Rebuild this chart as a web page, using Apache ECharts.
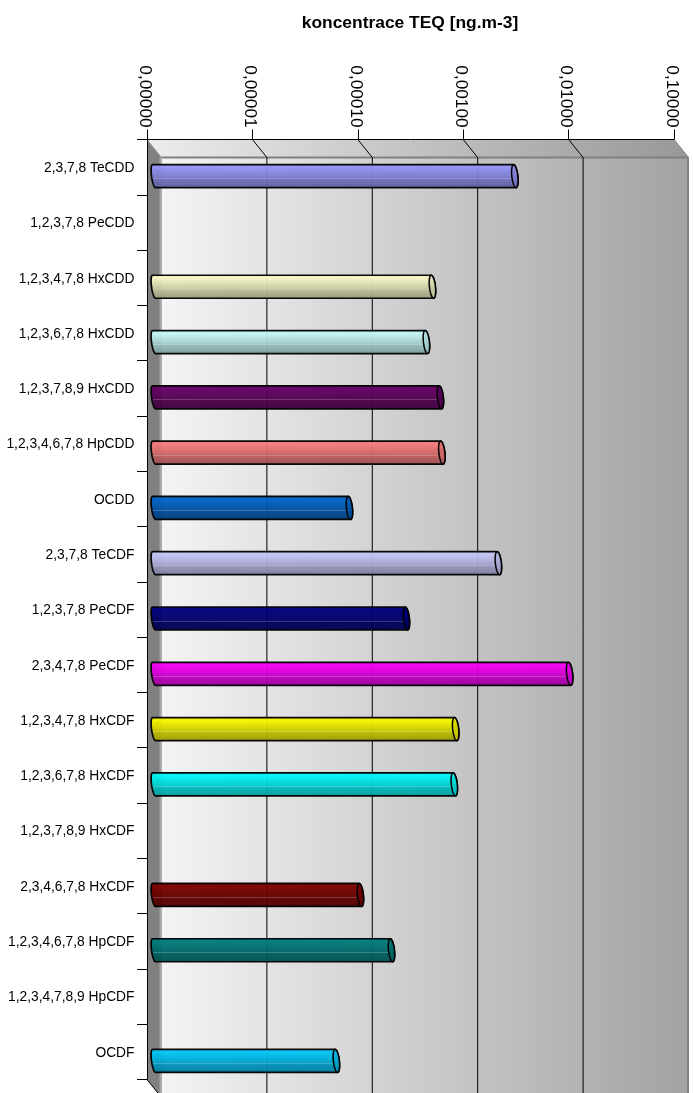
<!DOCTYPE html>
<html>
<head>
<meta charset="utf-8">
<style>
  html, body { margin: 0; padding: 0; background: #fff; overflow: hidden; }
  #chart { width: 693px; height: 1093px; }
</style>
<script src="https://cdn.jsdelivr.net/npm/echarts@6/dist/echarts.min.js"></script>
</head>
<body>
<div id="chart"></div>
<script>
// Congeners on the vertical axis, top to bottom
const categories = [
  '2,3,7,8 TeCDD', '1,2,3,7,8 PeCDD', '1,2,3,4,7,8 HxCDD', '1,2,3,6,7,8 HxCDD',
  '1,2,3,7,8,9 HxCDD', '1,2,3,4,6,7,8 HpCDD', 'OCDD', '2,3,7,8 TeCDF',
  '1,2,3,7,8 PeCDF', '2,3,4,7,8 PeCDF', '1,2,3,4,7,8 HxCDF', '1,2,3,6,7,8 HxCDF',
  '1,2,3,7,8,9 HxCDF', '2,3,4,6,7,8 HxCDF', '1,2,3,4,6,7,8 HpCDF', '1,2,3,4,7,8,9 HpCDF', 'OCDF'
];
// TEQ concentration in ng.m-3; null means no bar for that congener
const teqValues = [
  0.00265, null, 0.000438, 0.000384, 0.000521, 0.000538, 0.0000714, 0.00185,
  0.000248, 0.00877, 0.000728, 0.000706, null, 0.0000908, 0.000179, null, 0.0000537
];
const barColors = [
  '#9999ff', '#993366', '#ffffcc', '#ccffff', '#660066', '#ff8080', '#0066cc', '#ccccff',
  '#000080', '#ff00ff', '#ffff00', '#00ffff', '#800080', '#800000', '#008080', '#0000ff', '#00ccff'
];
// Decades of the logarithmic scale
const axisTicks = [0.000001, 0.00001, 0.0001, 0.001, 0.01, 0.1];
const chartTitle = 'koncentrace TEQ [ng.m-3]';

// Depth of the pseudo-3D box, and how far into it the cylinders sit
const DEPTH_X = 14.5, DEPTH_Y = 18;
const BAR_DX = 7, BAR_DY = 9, BAR_RY = 11.5;

const grad = (stops) => new echarts.graphic.LinearGradient(1, 0, 0, 0,
  stops.map((c, i) => ({ offset: i / (stops.length - 1), color: c })));

// Scales a colour's channels towards black
function shade(color, factor) {
  const p = echarts.color.parse(color);
  return 'rgb(' + [p[0], p[1], p[2]].map((c) => Math.round(c * factor)).join(',') + ')';
}

// Back wall, ceiling, floor panel and the decade lines running over them
function renderBox(params, api) {
  const c = params.coordSys;
  const L = c.x, T = c.y, R = c.x + c.width, B = c.y + c.height;
  const items = [
    { type: 'polygon', shape: { points: [[L + DEPTH_X, T + DEPTH_Y], [R + DEPTH_X, T + DEPTH_Y], [R + DEPTH_X, B + DEPTH_Y], [L + DEPTH_X, B + DEPTH_Y]] },
      style: { fill: grad(['#a2a2a2', '#f4f4f4']) } },
    { type: 'polygon', shape: { points: [[L, T], [R, T], [R + DEPTH_X, T + DEPTH_Y], [L + DEPTH_X, T + DEPTH_Y]] },
      style: { fill: grad(['#989898', '#ececec']) } },
    { type: 'polygon', shape: { points: [[L, T], [L + DEPTH_X, T + DEPTH_Y], [L + DEPTH_X, B + DEPTH_Y], [L, B]] },
      style: { fill: '#808080' } },
    { type: 'line', shape: { x1: L + DEPTH_X, y1: T + DEPTH_Y, x2: R + DEPTH_X, y2: T + DEPTH_Y }, style: { stroke: '#808080', lineWidth: 2 } },
    { type: 'line', shape: { x1: L + DEPTH_X - 1, y1: T + DEPTH_Y, x2: L + DEPTH_X - 1, y2: B + DEPTH_Y }, style: { stroke: '#a6a6a6', lineWidth: 2 } },
    { type: 'line', shape: { x1: R + DEPTH_X - 0.5, y1: T + DEPTH_Y, x2: R + DEPTH_X - 0.5, y2: B + DEPTH_Y }, style: { stroke: '#808080', lineWidth: 2 } },
    { type: 'line', shape: { x1: L, y1: T, x2: L + DEPTH_X, y2: T + DEPTH_Y }, style: { stroke: '#a0a0a0', lineWidth: 1 } },
    { type: 'line', shape: { x1: R, y1: T, x2: R + DEPTH_X, y2: T + DEPTH_Y }, style: { stroke: '#808080', lineWidth: 1 } },
    { type: 'line', shape: { x1: L, y1: B, x2: L + DEPTH_X, y2: B + DEPTH_Y }, style: { stroke: '#000', lineWidth: 1 } }
  ];
  axisTicks.slice(1, -1).forEach((t) => {
    const x = api.coord([t, 0])[0];
    items.push(
      { type: 'line', shape: { x1: x, y1: T, x2: x + DEPTH_X, y2: T + DEPTH_Y }, style: { stroke: '#000', lineWidth: 1 } },
      { type: 'line', shape: { x1: x + DEPTH_X, y1: T + DEPTH_Y, x2: x + DEPTH_X, y2: B + DEPTH_Y }, style: { stroke: '#000', lineWidth: 1 } }
    );
  });
  return { type: 'group', children: items };
}

// Half of a slightly sheared ellipse, from the top edge round to the bottom edge
function cap(cx, cy, rx, shear, side) {
  const pts = [];
  for (let i = 0; i <= 24; i++) {
    const t = -Math.PI / 2 + Math.PI * i / 24;
    pts.push([cx + side * rx * Math.cos(t) + shear * Math.sin(t), cy + BAR_RY * Math.sin(t)]);
  }
  return pts;
}

// One horizontal cylinder, from the axis minimum to its value
function renderBar(params, api) {
  const v = api.value(0);
  if (v == null || isNaN(v)) return null;
  const idx = api.value(1);
  const start = api.coord([axisTicks[0], idx]);
  const end = api.coord([v, idx]);
  const cy = end[1] + BAR_DY;
  const x0 = start[0] + BAR_DX;
  const x1 = end[0] + BAR_DX;
  const base = barColors[idx];
  const left = cap(x0, cy, 2.5, 1.5, -1);
  const right = cap(x1, cy, 3, 1.2, 1);
  const body = left.concat(right.slice().reverse());
  const fill = new echarts.graphic.LinearGradient(0, 0, 0, 1, [
    { offset: 0, color: shade(base, 0.9) },
    { offset: 0.14, color: shade(base, 0.97) },
    { offset: 0.55, color: shade(base, 0.8) },
    { offset: 0.62, color: shade(base, 0.74) },
    { offset: 1, color: shade(base, 0.6) }
  ]);
  const capFill = new echarts.graphic.LinearGradient(0, 0, 0, 1, [
    { offset: 0, color: shade(base, 0.92) },
    { offset: 1, color: shade(base, 0.7) }
  ]);
  const ellipse = cap(x1, cy, 3, 1.2, 1).concat(cap(x1, cy, 3, 1.2, -1).reverse());
  const highlightY = Math.round(cy + 2) + 0.5;
  return {
    type: 'group',
    children: [
      { type: 'polygon', shape: { points: body }, style: { fill: fill, stroke: '#000', lineWidth: 1.7, lineJoin: 'round', opacity: 0.96 } },
      { type: 'line', shape: { x1: x0 - 1, y1: highlightY, x2: x1 - 3, y2: highlightY }, style: { stroke: 'rgba(255,255,255,0.2)', lineWidth: 1 } },
      { type: 'polygon', shape: { points: ellipse }, style: { fill: capFill, stroke: '#000', lineWidth: 1.5 } }
    ]
  };
}

const chart = echarts.init(document.getElementById('chart'), null, { renderer: 'canvas' });
chart.setOption({
  animation: false,
  backgroundColor: '#ffffff',
  textStyle: { fontFamily: '"Liberation Sans", Arial, sans-serif', color: '#000' },
  title: {
    text: chartTitle, left: 405, top: 10, textAlign: 'center',
    textStyle: { fontFamily: '"Liberation Sans", Arial, sans-serif', fontSize: 17.4, fontWeight: 'bold', color: '#000' }
  },
  grid: { left: 147, right: 19, top: 139.5, height: 940, containLabel: false },
  xAxis: {
    type: 'log', logBase: 10, position: 'top',
    min: axisTicks[0], max: axisTicks[axisTicks.length - 1],
    axisLine: { show: true, lineStyle: { color: '#000', width: 1 } },
    axisTick: { show: true, length: 10, lineStyle: { color: '#000' } },
    minorTick: { show: false }, splitLine: { show: false }, minorSplitLine: { show: false },
    axisLabel: {
      rotate: 90, margin: 12, fontSize: 17.2, color: '#000',
      fontFamily: '"Liberation Sans", Arial, sans-serif',
      verticalAlign: 'top', lineHeight: 5,
      formatter: (v) => v.toFixed(5).replace('.', ',')
    }
  },
  yAxis: {
    type: 'category', inverse: true, data: categories,
    axisLine: { show: true, lineStyle: { color: '#000', width: 1 } },
    axisTick: { show: true, length: 10, lineStyle: { color: '#000' } },
    splitLine: { show: false },
    axisLabel: {
      margin: 12.5, fontSize: 13.8, color: '#000', interval: 0,
      fontFamily: '"Liberation Sans", Arial, sans-serif',
      verticalAlign: 'top', lineHeight: 2
    }
  },
  series: [
    { name: 'box', type: 'custom', coordinateSystem: 'cartesian2d', clip: false, silent: true, z: 0,
      renderItem: (p, api) => p.dataIndex === 0 ? renderBox(p, api) : null,
      data: [[axisTicks[0], 0]], encode: { x: 0, y: 1 } },
    { name: 'TEQ', type: 'custom', coordinateSystem: 'cartesian2d', clip: false, z: 3,
      renderItem: renderBar,
      data: teqValues.map((v, i) => [v, i]), encode: { x: 0, y: 1 } }
  ]
});
</script>
</body>
</html>
